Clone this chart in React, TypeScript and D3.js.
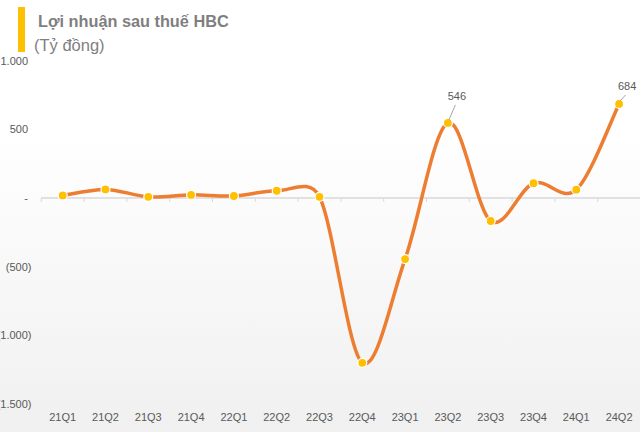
import React from "react";
import * as d3 from "d3";

const categories = ["21Q1","21Q2","21Q3","21Q4","22Q1","22Q2","22Q3","22Q4","23Q1","23Q2","23Q3","23Q4","24Q1","24Q2"];
const profit = [18, 62, 8, 22, 14, 52, 8, -1200, -445, 546, -168, 107, 60, 684];
const yTicks = [1000, 500, 0, -500, -1000, -1500];
const labeledIdx = [9, 13];
const labelOffsets: Record<number, [number, number]> = { 9: [9, -23], 13: [8, -14] };

const W = 640, H = 432;

function fmt(v: number) {
  if (v === 0) return "-";
  const s = d3.format(",")(Math.abs(v)).replace(/,/g, ".");
  return v < 0 ? `(${s})` : s;
}

// Excel-style smoothed line (Bezier with 1/6 tangents, handles clamped to half segment)
function excelSmooth(pts: [number, number][]) {
  const p = d3.path();
  const n = pts.length;
  p.moveTo(pts[0][0], pts[0][1]);
  const dist = (a: [number, number], b: [number, number]) => Math.hypot(b[0] - a[0], b[1] - a[1]);
  for (let i = 0; i < n - 1; i++) {
    const p0 = pts[Math.max(i - 1, 0)], p1 = pts[i], p2 = pts[i + 1], p3 = pts[Math.min(i + 2, n - 1)];
    const d12 = dist(p1, p2), d02 = dist(p0, p2), d13 = dist(p1, p3);
    const f1 = d02 > 0 ? Math.min(1 / 6, d12 / 2 / d02) : 0;
    const f2 = d13 > 0 ? Math.min(1 / 6, d12 / 2 / d13) : 0;
    p.bezierCurveTo(
      p1[0] + (p2[0] - p0[0]) * f1, p1[1] + (p2[1] - p0[1]) * f1,
      p2[0] - (p3[0] - p1[0]) * f2, p2[1] - (p3[1] - p1[1]) * f2,
      p2[0], p2[1]
    );
  }
  return p.toString();
}

export default function App() {
  const x = d3.scaleBand<string>().domain(categories).range([41.3, 640.5]);
  const y = d3.scaleLinear().domain([-1500, 1000]).range([404, 60.5]);
  const cx = (c: string) => (x(c) as number) + x.bandwidth() / 2;
  const pts: [number, number][] = profit.map((v, i) => [cx(categories[i]), y(v)]);
  const y0 = y(0);
  return (
    <svg width={W} height={H} style={{ position: "absolute", left: 0, top: 0 }} fontFamily="'Liberation Sans', Arial, sans-serif">
      <defs>
        <linearGradient id="bg" x1="0" y1="0" x2="0" y2="1">
          <stop offset="0" stopColor="#ffffff" />
          <stop offset="0.3" stopColor="#ffffff" />
          <stop offset="1" stopColor="#f0f0f0" />
        </linearGradient>
      </defs>
      <rect x={0} y={0} width={W} height={H} fill="url(#bg)" />
      <rect x={18} y={7} width={7} height={45} fill="#FFC000" />
      <text x={38} y={27} fontSize={16.3} fontWeight="bold" fill="#7f7f7f">Lợi nhuận sau thuế HBC</text>
      <text x={34} y={51} fontSize={16.5} fill="#7f7f7f">(Tỷ đồng)</text>
      {yTicks.map((t) => (
        <text key={t} x={t < 0 ? 31.5 : 28} y={y(t) + 4} fontSize={11} fill="#595959" textAnchor="end">
          {fmt(t)}
        </text>
      ))}
      <line x1={41.3} x2={640} y1={y0} y2={y0} stroke="#d9d9d9" strokeWidth={1.5} />
      {categories.map((c) => (
        <line key={c} x1={x(c) as number} x2={x(c) as number} y1={y0} y2={y0 + 4} stroke="#d9d9d9" strokeWidth={1} />
      ))}
      {categories.map((c) => (
        <text key={c} x={cx(c)} y={421} fontSize={11} fill="#595959" textAnchor="middle">{c}</text>
      ))}
      <path d={excelSmooth(pts)} fill="none" stroke="#ED7D31" strokeWidth={3.5} strokeLinejoin="round" />
      {profit.map((v, i) => (
        <circle key={i} cx={cx(categories[i])} cy={y(v)} r={4.5} fill="#FFC000" stroke="#ffffff" strokeWidth={1.2} />
      ))}
      {labeledIdx.map((i) => {
        const px = cx(categories[i]);
        const py = y(profit[i]);
        const [dx, dy] = labelOffsets[i];
        const lx = px + dx, ly = py + dy;
        return (
          <g key={i}>
            <line x1={px + 1} y1={py - 3} x2={lx - 1.5} y2={ly + 5} stroke="#a6a6a6" strokeWidth={1} />
            <text x={lx} y={ly} fontSize={11} fill="#595959" textAnchor="middle">{profit[i]}</text>
          </g>
        );
      })}
    </svg>
  );
}
